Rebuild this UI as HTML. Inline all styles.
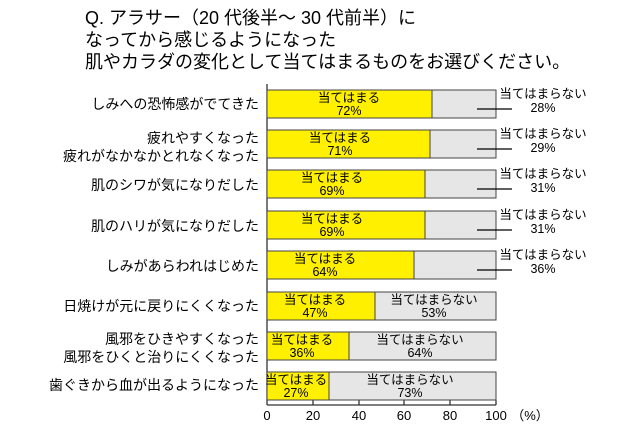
<!DOCTYPE html><html><head><meta charset="utf-8"><style>body{margin:0;background:#fff}svg{display:block}text{font-family:"Liberation Sans","Noto Sans CJK JP",sans-serif;fill:#000}</style></head><body>
<svg width="640" height="426" xmlns="http://www.w3.org/2000/svg">
<g font-size="18">
<text x="85" y="24">Q. アラサー（20 代後半～ 30 代前半）に</text>
<text x="85" y="46">なってから感じるようになった</text>
<text x="85" y="68">肌やカラダの変化として当てはまるものをお選びください。</text>
</g>
<g stroke="#333" stroke-width="1.3">
<line x1="267" y1="84" x2="267" y2="405"/>
<line x1="267" y1="405" x2="496" y2="405"/>
<line x1="313" y1="400" x2="313" y2="405"/><line x1="359" y1="400" x2="359" y2="405"/><line x1="404" y1="400" x2="404" y2="405"/><line x1="450" y1="400" x2="450" y2="405"/><line x1="496" y1="400" x2="496" y2="405"/>
</g>
<g font-size="13" text-anchor="middle">
<text x="267" y="420">0</text><text x="313" y="420">20</text><text x="359" y="420">40</text><text x="404" y="420">60</text><text x="450" y="420">80</text><text x="496" y="420">100</text><text x="530" y="420">（%）</text>
</g>
<g stroke="#444" stroke-width="1">
<rect x="267" y="90" width="229" height="28" fill="#e6e6e6"/><rect x="267" y="90" width="165" height="28" fill="#fff000"/>
<rect x="267" y="130" width="229" height="28" fill="#e6e6e6"/><rect x="267" y="130" width="163" height="28" fill="#fff000"/>
<rect x="267" y="170" width="229" height="28" fill="#e6e6e6"/><rect x="267" y="170" width="158" height="28" fill="#fff000"/>
<rect x="267" y="211" width="229" height="28" fill="#e6e6e6"/><rect x="267" y="211" width="158" height="28" fill="#fff000"/>
<rect x="267" y="251" width="229" height="28" fill="#e6e6e6"/><rect x="267" y="251" width="147" height="28" fill="#fff000"/>
<rect x="267" y="292" width="229" height="28" fill="#e6e6e6"/><rect x="267" y="292" width="108" height="28" fill="#fff000"/>
<rect x="267" y="332" width="229" height="28" fill="#e6e6e6"/><rect x="267" y="332" width="82" height="28" fill="#fff000"/>
<rect x="267" y="372" width="229" height="28" fill="#e6e6e6"/><rect x="267" y="372" width="62" height="28" fill="#fff000"/>
</g>
<g stroke="#000" stroke-width="1.3">
<line x1="477" y1="109" x2="512" y2="109"/><line x1="477" y1="149" x2="512" y2="149"/><line x1="477" y1="189" x2="512" y2="189"/><line x1="477" y1="230" x2="512" y2="230"/><line x1="477" y1="270" x2="512" y2="270"/>
</g>
<g font-size="12.5" text-anchor="middle">
<text x="349" y="102">当てはまる</text><text x="349" y="115">72%</text>
<text x="340" y="142">当てはまる</text><text x="340" y="155">71%</text>
<text x="332" y="182">当てはまる</text><text x="332" y="195">69%</text>
<text x="332" y="223">当てはまる</text><text x="332" y="236">69%</text>
<text x="325" y="263">当てはまる</text><text x="325" y="276">64%</text>
<text x="315" y="304">当てはまる</text><text x="315" y="317">47%</text>
<text x="302" y="344">当てはまる</text><text x="302" y="357">36%</text>
<text x="296" y="384">当てはまる</text><text x="296" y="397">27%</text>
<text x="434" y="304">当てはまらない</text><text x="434" y="317">53%</text>
<text x="420" y="344">当てはまらない</text><text x="420" y="357">64%</text>
<text x="410" y="384">当てはまらない</text><text x="410" y="397">73%</text>
<text x="543" y="98">当てはまらない</text><text x="543" y="112">28%</text>
<text x="543" y="138">当てはまらない</text><text x="543" y="152">29%</text>
<text x="543" y="178">当てはまらない</text><text x="543" y="192">31%</text>
<text x="543" y="219">当てはまらない</text><text x="543" y="233">31%</text>
<text x="543" y="259">当てはまらない</text><text x="543" y="273">36%</text>
</g>
<g font-size="14" text-anchor="end">
<text x="259" y="109">しみへの恐怖感がでてきた</text>
<text x="259" y="143">疲れやすくなった</text><text x="259" y="161">疲れがなかなかとれなくなった</text>
<text x="259" y="190">肌のシワが気になりだした</text>
<text x="259" y="231">肌のハリが気になりだした</text>
<text x="259" y="271">しみがあらわれはじめた</text>
<text x="259" y="311">日焼けが元に戻りにくくなった</text>
<text x="259" y="344">風邪をひきやすくなった</text><text x="259" y="362">風邪をひくと治りにくくなった</text>
<text x="259" y="390">歯ぐきから血が出るようになった</text>
</g>
</svg></body></html>
